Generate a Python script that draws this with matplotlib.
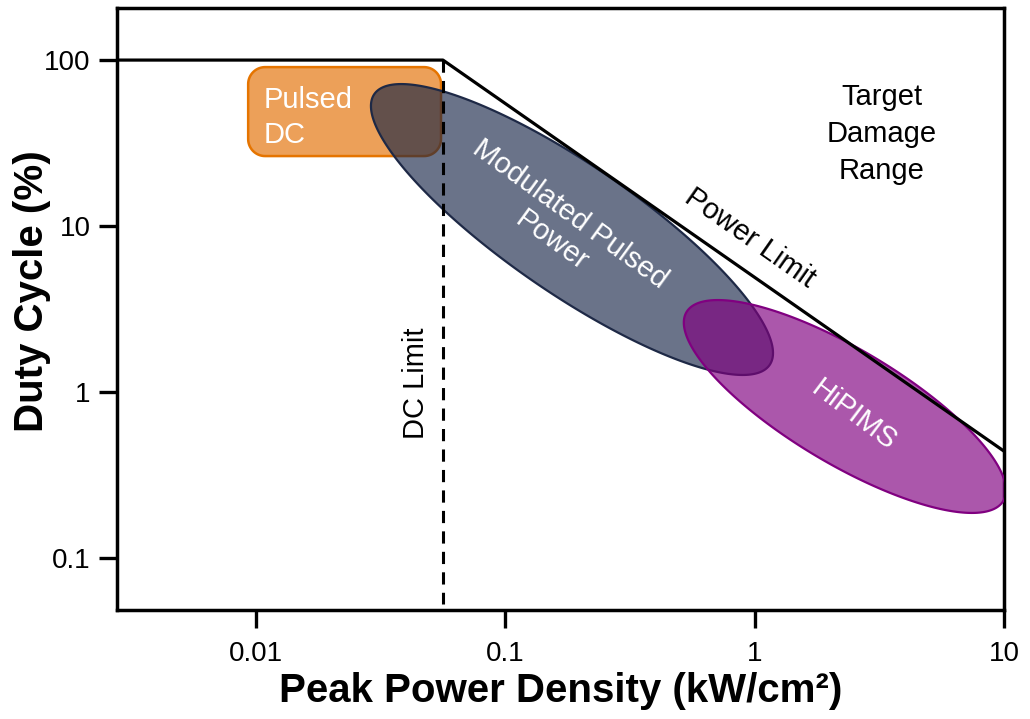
import numpy as np
import matplotlib
matplotlib.use("Agg")
from matplotlib import pyplot as plt

plt.rcParams["font.family"] = ["Liberation Sans", "DejaVu Sans"]

# axis ranges (kW/cm^2, %)
x_range = [0.00277, 10]
y_range = [0.0486, 206]

x_ticks = [0.01, 0.1, 1, 10]
x_tick_labels = ["0.01", "0.1", "1", "10"]
y_ticks = [0.1, 1, 10, 100]
y_tick_labels = ["0.1", "1", "10", "100"]

# limit lines
power_limit_x = [0.00277, 0.0562, 10]
power_limit_y = [100, 100, 0.44]
dc_limit_x = [0.0562, 0.0562]
dc_limit_y = [100, 0.053]

# operating regions
pulsed_dc_x = [0.0093, 0.0552]
pulsed_dc_y = [26.4, 90.7]
modulated_center = (0.185, 9.53)
hipims_center = (2.30, 0.818)


def ellipse_points(ax, center, a, b, angle, n=300):
    # ellipse drawn round in screen space, then mapped back to data
    cx, cy = ax.transData.transform(center)
    t = np.linspace(0, 2 * np.pi, n)
    phi = np.radians(angle)
    xs = cx + a * np.cos(t) * np.cos(phi) - b * np.sin(t) * np.sin(phi)
    ys = cy + a * np.cos(t) * np.sin(phi) + b * np.sin(t) * np.cos(phi)
    return ax.transData.inverted().transform(np.column_stack([xs, ys]))


def rounded_rect_points(ax, xs, ys, r, n=20):
    (x0, y0), (x1, y1) = ax.transData.transform([(xs[0], ys[0]), (xs[1], ys[1])])
    pts = []
    corners = [(x1 - r, y1 - r, 0), (x0 + r, y1 - r, 90),
               (x0 + r, y0 + r, 180), (x1 - r, y0 + r, 270)]
    for cx, cy, start in corners:
        th = np.radians(np.linspace(start, start + 90, n))
        pts.append(np.column_stack([cx + r * np.cos(th), cy + r * np.sin(th)]))
    return ax.transData.inverted().transform(np.vstack(pts))


fig = plt.figure(figsize=(10.3, 7.19), dpi=100)
ax = fig.add_axes([0.1136, 0.1516, 0.8612, 0.8373])
ax.set_xscale("log")
ax.set_yscale("log")
ax.set_xlim(x_range)
ax.set_ylim(y_range)

rect = rounded_rect_points(ax, pulsed_dc_x, pulsed_dc_y, 17)
ax.fill(rect[:, 0], rect[:, 1], facecolor=(0.886, 0.431, 0.0, 0.65),
        edgecolor="#e57400", linewidth=1.8, zorder=1)

mod = ellipse_points(ax, modulated_center, 239.6, 64.5, -34.4)
ax.fill(mod[:, 0], mod[:, 1], facecolor=(0.078, 0.13, 0.267, 0.63),
        edgecolor="#1e2946", linewidth=1.6, zorder=2)

hip = ellipse_points(ax, hipims_center, 184.4, 57.2, -30.8)
ax.fill(hip[:, 0], hip[:, 1], facecolor=(0.502, 0.0, 0.502, 0.66),
        edgecolor="#800080", linewidth=1.6, zorder=3)

ax.plot(power_limit_x, power_limit_y, color="black", lw=2.3, zorder=4,
        solid_capstyle="butt")
ax.plot(dc_limit_x, dc_limit_y, color="black", lw=2.2, zorder=4,
        linestyle=(0, (4, 2.7)))

txt = dict(fontsize=21, zorder=5)
ax.text(0.0107, 45, "Pulsed\nDC", color="white", ha="left", va="center",
        linespacing=1.35, **txt)
ax.text(0.167, 9.8, "Modulated Pulsed\nPower", color="white", ha="center",
        va="center", rotation=-36, linespacing=1.2, **txt)
ax.text(2.5, 0.726, "HiPIMS", color="white", ha="center", va="center",
        rotation=-37, **txt)
ax.text(0.958, 8.47, "Power Limit", color="black", ha="center", va="center",
        rotation=-35, **txt)
ax.text(3.24, 35.8, "Target\nDamage\nRange", color="black", ha="center",
        va="center", linespacing=1.4, **txt)
ax.text(0.0438, 1.13, "DC Limit", color="black", ha="center", va="center",
        rotation=90, **txt)

ax.set_xticks(x_ticks)
ax.set_xticklabels(x_tick_labels)
ax.set_yticks(y_ticks)
ax.set_yticklabels(y_tick_labels)
ax.minorticks_off()
ax.tick_params(length=13, width=2.4, labelsize=20, direction="out")
ax.tick_params(axis="x", pad=9)
ax.tick_params(axis="y", pad=6)
for s in ax.spines.values():
    s.set_linewidth(2.5)

ax.set_xlabel("Peak Power Density (kW/cm²)", fontsize=29,
              fontweight="bold", labelpad=4)
ax.set_ylabel("Duty Cycle (%)", fontsize=29, fontweight="bold")
ax.yaxis.set_label_coords(-0.074, 0.53)

fig.savefig("out.png", dpi=100)
